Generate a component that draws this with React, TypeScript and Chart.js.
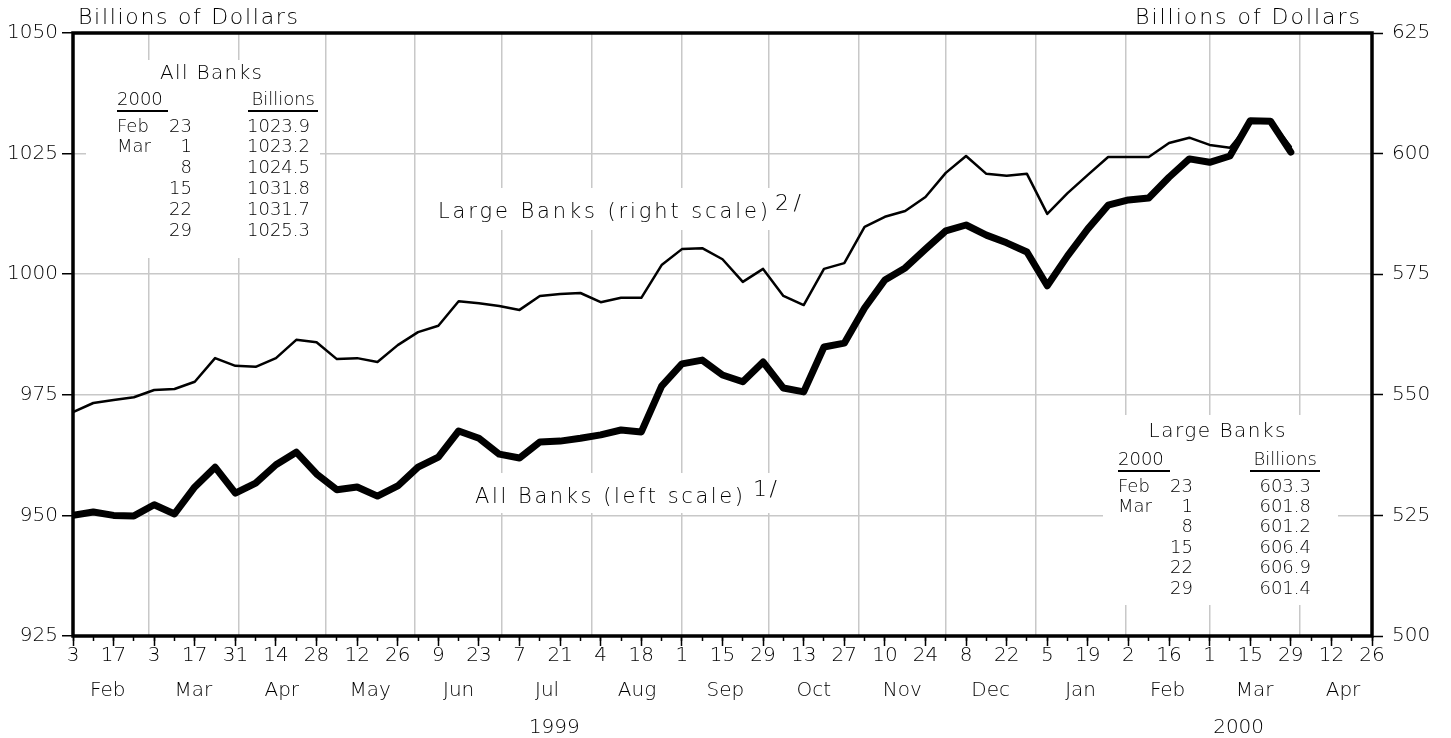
import { useEffect, useRef } from 'react';
import { Chart, registerables } from 'chart.js';

Chart.register(...registerables);

// ---------- data (weekly, Wednesdays, starting Feb 3 1999) ----------
const START_UTC = Date.UTC(1999, 1, 3);
const DAY_MS = 86400000;
const AXIS_END_DAY = 448; // Apr 26, 2000

const allBanks = [
  950.0, 950.7, 950.0, 949.9, 952.2, 950.3, 955.9, 960.0, 954.6, 956.7,
  960.5, 963.1, 958.6, 955.3, 955.9, 954.0, 956.1, 960.0, 962.1, 967.5,
  966.0, 962.7, 961.9, 965.2, 965.4, 966.0, 966.7, 967.7, 967.3, 976.8,
  981.4, 982.2, 979.1, 977.7, 981.8, 976.4, 975.6, 984.9, 985.7, 993.0,
  998.8, 1001.3, 1005.2, 1009.0, 1010.2, 1008.1, 1006.5, 1004.6, 997.6, 1003.8,
  1009.4, 1014.3, 1015.4, 1015.8, 1020.1, 1023.9, 1023.2, 1024.5, 1031.8, 1031.7,
  1025.3,
];

const largeBanks = [
  546.4, 548.3, 548.9, 549.5, 551.0, 551.2, 552.7, 557.6, 556.0, 555.8,
  557.6, 561.4, 560.9, 557.4, 557.6, 556.8, 560.3, 563.0, 564.3, 569.4,
  569.0, 568.4, 567.6, 570.5, 570.9, 571.1, 569.2, 570.1, 570.1, 576.9,
  580.2, 580.4, 578.1, 573.4, 576.1, 570.5, 568.6, 576.1, 577.3, 584.8,
  586.9, 588.1, 591.0, 596.0, 599.5, 595.8, 595.4, 595.8, 587.5, 591.8,
  595.6, 599.3, 599.3, 599.3, 602.2, 603.3, 601.8, 601.2, 606.4, 606.9,
  601.4,
];

const monthNames = ['Jan', 'Feb', 'Mar', 'Apr', 'May', 'Jun', 'Jul', 'Aug', 'Sep', 'Oct', 'Nov', 'Dec'];
const yearLabels = ['1999', '2000'];
const yearLabelDays = [166, 402];

const leftTicks = { min: 925, max: 1050, step: 25 };
const rightTicks = { min: 500, max: 625, step: 25 };

// ---------- derived helpers ----------
const dayToDate = (d: number) => new Date(START_UTC + d * DAY_MS);
const dateToDay = (y: number, m: number, d: number) => (Date.UTC(y, m, d) - START_UTC) / DAY_MS;

const weekDays = allBanks.map((_, i) => i * 7);
const minorDays: number[] = [];
for (let d = 0; d <= AXIS_END_DAY; d += 7) minorDays.push(d);
const majorDays: number[] = [];
for (let d = 0; d <= AXIS_END_DAY; d += 14) majorDays.push(d);
const majorLabels = majorDays.map((d) => String(dayToDate(d).getUTCDate()));

const monthStarts: number[] = [];
const monthCenters: number[] = [];
const monthLabels: string[] = [];
for (let y = 1999, m = 1; y < 2000 || m <= 3; ) {
  const s = dateToDay(y, m, 1);
  const ny = m === 11 ? y + 1 : y;
  const nm = (m + 1) % 12;
  const e = dateToDay(ny, nm, 1);
  if (s > 0) monthStarts.push(s);
  monthCenters.push((s + e) / 2);
  monthLabels.push(monthNames[m]);
  y = ny;
  m = nm;
}

const FONT = '"DejaVu Sans", "Open Sans", sans-serif';
const FW = '200';
const GRID = '#c8c8c8';

function tableRows(values: number[]) {
  const n = 6;
  const rows: string[][] = [];
  let prevMonth = -1;
  for (let i = values.length - n; i < values.length; i++) {
    const dt = dayToDate(weekDays[i]);
    const mo = dt.getUTCMonth();
    rows.push([mo !== prevMonth ? monthNames[mo] : '', String(dt.getUTCDate()), values[i].toFixed(1)]);
    prevMonth = mo;
  }
  return rows;
}

function setFont(ctx: CanvasRenderingContext2D, size: number) {
  ctx.font = `${FW} ${size}px ${FONT}`;
}

// draw text stretched (via letter spacing) to a given ink width
function fitText(ctx: any, text: string, x: number, y: number, align: string, width: number, size: number) {
  setFont(ctx, size);
  ctx.letterSpacing = '0px';
  const w = ctx.measureText(text).width;
  const n = text.length;
  const sp = n > 1 ? (width - w) / (n - 1) : 0;
  ctx.letterSpacing = `${sp}px`;
  ctx.textAlign = 'left';
  const left = align === 'left' ? x : align === 'right' ? x - width : x - width / 2;
  ctx.fillText(text, left, y);
  ctx.letterSpacing = '0px';
}

function drawTable(
  ctx: CanvasRenderingContext2D,
  t: { box: number[]; title: string; titleX: number; titleY: number; titleW: number; left: number; headY: number;
       yearRight: number; billLeft: number; billRight: number; rowY: number; rowStep: number;
       dayRight: number; valRight: number; rows: string[][] }
) {
  ctx.fillStyle = '#fff';
  ctx.fillRect(t.box[0], t.box[1], t.box[2], t.box[3]);
  ctx.fillStyle = '#000';
  ctx.textBaseline = 'middle';
  fitText(ctx, t.title, t.titleX, t.titleY, 'center', t.titleW, 20);
  setFont(ctx, 18);
  ctx.textAlign = 'left';
  ctx.fillText('2000', t.left, t.headY);
  ctx.textAlign = 'right';
  ctx.fillText('Billions', t.billRight - 3, t.headY);
  ctx.strokeStyle = '#000';
  ctx.lineWidth = 2;
  ctx.beginPath();
  ctx.moveTo(t.left, t.headY + 11);
  ctx.lineTo(t.yearRight, t.headY + 11);
  ctx.moveTo(t.billLeft, t.headY + 11);
  ctx.lineTo(t.billRight, t.headY + 11);
  ctx.stroke();
  t.rows.forEach((r, k) => {
    const y = t.rowY + k * t.rowStep;
    ctx.textAlign = 'left';
    ctx.fillText(r[0], t.left, y);
    ctx.textAlign = 'right';
    ctx.fillText(r[1], t.dayRight, y);
    ctx.fillText(r[2], t.valRight, y);
  });
}

function drawLabel(ctx: CanvasRenderingContext2D, box: number[], text: string, x: number, y: number, w: number,
                   sup: string, sx: number, sy: number, sw: number) {
  ctx.fillStyle = '#fff';
  ctx.fillRect(box[0], box[1], box[2], box[3]);
  ctx.fillStyle = '#000';
  ctx.textBaseline = 'middle';
  fitText(ctx, text, x, y, 'left', w, 21);
  fitText(ctx, sup, sx, sy, 'left', sw, 22);
}

const annotations = {
  id: 'annotations',
  beforeDatasetsDraw(chart: any) {
    const ctx: CanvasRenderingContext2D = chart.ctx;
    ctx.save();
    drawTable(ctx, {
      box: [86, 60, 234, 198], title: 'All Banks', titleX: 211, titleY: 74, titleW: 102, left: 117, headY: 100,
      yearRight: 168, billLeft: 248, billRight: 318, rowY: 127, rowStep: 20.8, dayRight: 192, valRight: 310,
      rows: tableRows(allBanks),
    });
    drawTable(ctx, {
      box: [1103, 415, 235, 190], title: 'Large Banks', titleX: 1217, titleY: 432, titleW: 137, left: 1118, headY: 460,
      yearRight: 1170, billLeft: 1250, billRight: 1320, rowY: 487, rowStep: 20.4, dayRight: 1193, valRight: 1311,
      rows: tableRows(largeBanks),
    });
    drawLabel(ctx, [428, 188, 384, 42], 'Large Banks (right scale)', 438, 213, 330, '2/', 775, 204, 26);
    drawLabel(ctx, [465, 473, 325, 40], 'All Banks (left scale)', 475, 498, 268, '1/', 753, 490, 24);
    ctx.restore();
  },
  afterDraw(chart: any) {
    const ctx: CanvasRenderingContext2D = chart.ctx;
    const a = chart.chartArea;
    ctx.save();
    ctx.strokeStyle = '#000';
    ctx.lineWidth = 3.5;
    ctx.strokeRect(a.left, a.top, a.right - a.left, a.bottom - a.top);
    ctx.fillStyle = '#000';
    ctx.textBaseline = 'middle';
    fitText(ctx, 'Billions of Dollars', 78, 18, 'left', 220, 22);
    fitText(ctx, 'Billions of Dollars', 1360, 18, 'right', 225, 22);
    ctx.restore();
  },
};

const tickFont = { family: FONT, size: 20, weight: FW as any, lineHeight: 1 };

export default function App() {
  const ref = useRef<HTMLCanvasElement>(null);
  useEffect(() => {
    if (!ref.current) return;
    const chart = new Chart(ref.current, {
      type: 'line',
      data: {
        datasets: [
          {
            label: 'All Banks (left scale)',
            data: allBanks.map((v, i) => ({ x: weekDays[i], y: v })),
            yAxisID: 'y',
            xAxisID: 'x',
            borderColor: '#000',
            borderWidth: 7,
            pointRadius: 0,
            tension: 0,
            borderJoinStyle: 'round',
            borderCapStyle: 'round',
          },
          {
            label: 'Large Banks (right scale)',
            data: largeBanks.map((v, i) => ({ x: weekDays[i], y: v })),
            yAxisID: 'y1',
            xAxisID: 'x',
            borderColor: '#000',
            borderWidth: 2.5,
            pointRadius: 0,
            tension: 0,
            borderJoinStyle: 'round',
            borderCapStyle: 'round',
          },
        ],
      },
      options: {
        responsive: false,
        maintainAspectRatio: false,
        animation: false,
        devicePixelRatio: 1,
        layout: { padding: { top: 33, left: 0, right: 0, bottom: 0 } },
        plugins: { legend: { display: false }, tooltip: { enabled: false } },
        scales: {
          y: {
            position: 'left',
            min: leftTicks.min,
            max: leftTicks.max,
            ticks: { stepSize: leftTicks.step, font: tickFont, color: '#000', padding: 4, callback: (v: any) => String(v) },
            grid: { color: GRID, lineWidth: 1.5, tickColor: '#000', tickLength: 11, tickWidth: 1.5 },
            border: { display: false },
            afterFit: (s: any) => { s.width = 73; },
          },
          y1: {
            position: 'right',
            min: rightTicks.min,
            max: rightTicks.max,
            ticks: { stepSize: rightTicks.step, font: tickFont, color: '#000', padding: 9, callback: (v: any) => String(v) },
            grid: { drawOnChartArea: false, tickColor: '#000', tickLength: 11, tickWidth: 1.5 },
            border: { display: false },
            afterFit: (s: any) => { s.width = 79; },
          },
          xMinor: {
            type: 'linear', position: 'bottom', min: 0, max: AXIS_END_DAY, weight: 0,
            afterBuildTicks: (s: any) => { s.ticks = minorDays.map((v) => ({ value: v })); },
            ticks: { display: false },
            grid: { drawOnChartArea: false, drawTicks: true, tickLength: 5, tickColor: '#000', tickWidth: 1.5 },
            border: { display: false },
            afterFit: (s: any) => { s.height = 0; },
          },
          xGrid: {
            type: 'linear', position: 'bottom', min: 0, max: AXIS_END_DAY, weight: 0.5,
            afterBuildTicks: (s: any) => { s.ticks = monthStarts.map((v) => ({ value: v })); },
            ticks: { display: false },
            grid: { drawOnChartArea: true, drawTicks: false, color: GRID, lineWidth: 1.5 },
            border: { display: false },
            afterFit: (s: any) => { s.height = 0; },
          },
          x: {
            type: 'linear', position: 'bottom', min: 0, max: AXIS_END_DAY, weight: 1,
            afterBuildTicks: (s: any) => { s.ticks = majorDays.map((v) => ({ value: v })); },
            ticks: {
              autoSkip: false, maxRotation: 0, minRotation: 0, font: tickFont, color: '#000', padding: 0,
              callback: (_v: any, i: number) => majorLabels[i],
            },
            grid: { drawOnChartArea: false, drawTicks: true, tickLength: 10, tickColor: '#000', tickWidth: 1.5 },
            border: { display: false },
            afterFit: (s: any) => { s.height = 38; },
          },
          xMonth: {
            type: 'linear', position: 'bottom', min: 0, max: AXIS_END_DAY, weight: 2,
            afterBuildTicks: (s: any) => { s.ticks = monthCenters.map((v) => ({ value: v })); },
            ticks: {
              autoSkip: false, maxRotation: 0, minRotation: 0, font: tickFont, color: '#000', padding: 7,
              callback: (_v: any, i: number) => monthLabels[i],
            },
            grid: { display: false, drawTicks: false },
            border: { display: false },
            afterFit: (s: any) => { s.height = 37; },
          },
          xYear: {
            type: 'linear', position: 'bottom', min: 0, max: AXIS_END_DAY, weight: 3,
            afterBuildTicks: (s: any) => { s.ticks = yearLabelDays.map((v) => ({ value: v })); },
            ticks: {
              autoSkip: false, maxRotation: 0, minRotation: 0, font: tickFont, color: '#000', padding: 7,
              callback: (_v: any, i: number) => yearLabels[i],
            },
            grid: { display: false, drawTicks: false },
            border: { display: false },
            afterFit: (s: any) => { s.height = 27; },
          },
        },
      } as any,
      plugins: [annotations],
    });
    return () => chart.destroy();
  }, []);
  return (
    <div style={{ position: 'absolute', left: 0, top: 0, width: 1451, height: 738, background: '#fff' }}>
      <canvas ref={ref} width={1451} height={738} style={{ display: 'block', width: 1451, height: 738 }} />
    </div>
  );
}
